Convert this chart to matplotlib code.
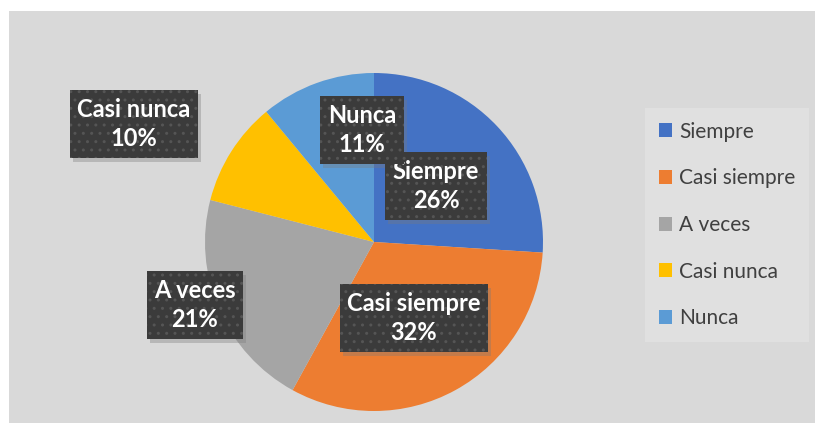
import matplotlib
matplotlib.use("Agg")
import matplotlib.pyplot as plt
from matplotlib.patches import Rectangle
from matplotlib.transforms import IdentityTransform

categories = ["Siempre", "Casi siempre", "A veces", "Casi nunca", "Nunca"]
values = [26, 32, 21, 10, 11]
colors = ["#4472C4", "#ED7D31", "#A5A5A5", "#FFC000", "#5B9BD5"]

# label box centres in pixels (x from left, y from top)
label_pos = [(436, 186), (414, 318), (195, 305), (134, 124), (362, 130)]

W, H = 815, 423
fig = plt.figure(figsize=(W / 100, H / 100), dpi=100, facecolor="white")

# gray chart area
fig.patches.append(Rectangle((9 / W, 0), 1 - 9 / W, 1 - 11 / H,
                             transform=fig.transFigure, facecolor="#d9d9d9",
                             edgecolor="none", zorder=-5))

cx, cy, R = 374, 242, 169
ax = fig.add_axes([(cx - R) / W, (H - cy - R) / H, 2 * R / W, 2 * R / H])
ax.set_facecolor("none")
wedges, _ = ax.pie(values, colors=colors, startangle=90, counterclock=False,
                   radius=1, wedgeprops=dict(linewidth=0))
ax.set_xlim(-1, 1)
ax.set_ylim(-1, 1)
ax.set_aspect("equal")
ax.axis("off")

labels = []
for name, val, (px, py) in zip(categories, values, label_pos):
    t = fig.text(px / W, 1 - py / H, f"{name}\n{val}%", ha="center", va="center",
                 fontsize=17, fontweight="bold", family="Lato", color="white",
                 linespacing=1.35, zorder=5,
                 bbox=dict(boxstyle="square,pad=0.32", facecolor="#3b3b3b",
                           edgecolor="#555555", linewidth=0, hatch=".."))
    labels.append(t)

leg = fig.legend(wedges, categories, loc="upper left",
                 bbox_to_anchor=(645 / W, 1 - 108 / H), frameon=True,
                 fancybox=False, handlelength=0.65, handleheight=0.65,
                 handletextpad=0.35, labelspacing=1.28, borderpad=0.65,
                 borderaxespad=0, prop=dict(family="Lato", size=15))
leg.get_frame().set_facecolor("#e3e3e3")
leg.get_frame().set_edgecolor("none")
for t in leg.get_texts():
    t.set_color("#404040")

# soft shadows under the label boxes
fig.canvas.draw()
for t in labels:
    bb = t.get_bbox_patch().get_window_extent()
    fig.patches.append(Rectangle((bb.x0 + 3, bb.y0 - 4), bb.width, bb.height,
                                 transform=IdentityTransform(), facecolor="#7a7a7a",
                                 edgecolor="none", alpha=0.35, zorder=4))

fig.savefig("out.png", dpi=100, facecolor="white")
